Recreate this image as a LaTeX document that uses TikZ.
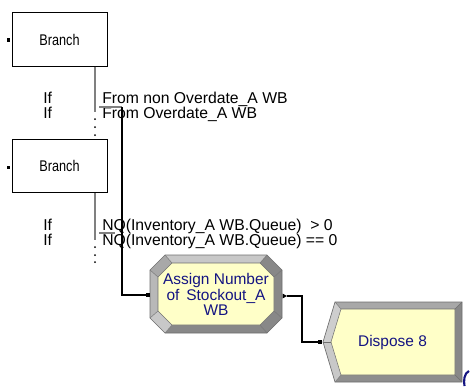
\documentclass[tikz,border=0pt]{standalone}
\usepackage{fontspec}
\setmainfont{Liberation Sans}
\usepackage{graphicx}
\definecolor{navyt}{RGB}{20,20,130}
\definecolor{ylw}{RGB}{255,255,200}
\definecolor{bvlight}{RGB}{200,200,200}
\definecolor{bvleft}{RGB}{184,184,184}
\definecolor{bvmid}{RGB}{168,168,168}
\definecolor{bvdark}{RGB}{136,136,136}
\definecolor{edgec}{RGB}{110,110,110}
\definecolor{exitgray}{RGB}{128,128,128}
\begin{document}
\begin{tikzpicture}[x=0.75pt,y=-0.75pt,
  branchbox/.style={draw=black, line width=0.75pt, fill=white, minimum width=71.25pt, minimum height=40pt, inner sep=0pt, font=\fontsize{11.6}{12}\selectfont},
  entrysq/.style={fill=black, minimum size=2.4pt, inner sep=0pt},
  lbl/.style={font=\fontsize{11.8}{12}\selectfont, inner sep=0pt, anchor=base west},
  exitline/.style={draw=exitgray, line width=1.1pt},
  conn/.style={draw=black, line width=0.8pt},
  modtext/.style={font=\fontsize{11.6}{11.8}\selectfont, text=navyt, align=center, inner sep=0pt},
  dotmark/.style={fill=black}
]
\useasboundingbox (0,0) rectangle (470,386);

% ---------- Branch boxes ----------
\node[branchbox] (b1) at (59.5,39.5) {\scalebox{0.82}[1]{Branch}};
\node[branchbox] (b2) at (59.5,166) {\scalebox{0.82}[1]{Branch}};
\node[entrysq] (e1) at (8.5,40) {};
\node[entrysq] (e2) at (8.5,167.5) {};

% ---------- Branch 1 labels ----------
\node[lbl] (if1) at (43,103) {If};
\node[lbl] (if2) at (43,118) {If};
\node[lbl] (c1) at (102,103) {From non Overdate\_A WB};
\node[lbl] (c2) at (102,118) {From Overdate\_A WB};

% ---------- Branch 2 labels ----------
\node[lbl] (if3) at (43,230.5) {If};
\node[lbl] (if4) at (43,245) {If};
\node[lbl] (c3) at (102,230.5) {NQ(Inventory\_A WB.Queue)\ \ > 0};
\node[lbl] (c4) at (102,245) {NQ(Inventory\_A WB.Queue) == 0};

% ---------- Assign module (beveled octagon) ----------
\coordinate (o1) at (165,255); \coordinate (o2) at (267,255);
\coordinate (o3) at (282,270); \coordinate (o4) at (282,318);
\coordinate (o5) at (267,333); \coordinate (o6) at (165,333);
\coordinate (o7) at (150,318); \coordinate (o8) at (150,270);
\coordinate (i1) at (172,263); \coordinate (i2) at (260,263);
\coordinate (i3) at (274,277); \coordinate (i4) at (274,311);
\coordinate (i5) at (260,325); \coordinate (i6) at (172,325);
\coordinate (i7) at (158,311); \coordinate (i8) at (158,277);
\fill[bvlight] (o1) -- (o2) -- (i2) -- (i1) -- cycle;
\fill[bvdark] (o2) -- (o3) -- (i3) -- (i2) -- cycle;
\fill[bvdark] (o3) -- (o4) -- (i4) -- (i3) -- cycle;
\fill[bvdark] (o4) -- (o5) -- (i5) -- (i4) -- cycle;
\fill[bvdark] (o5) -- (o6) -- (i6) -- (i5) -- cycle;
\fill[bvlight] (o6) -- (o7) -- (i7) -- (i6) -- cycle;
\fill[bvleft] (o7) -- (o8) -- (i8) -- (i7) -- cycle;
\fill[bvmid] (o8) -- (o1) -- (i1) -- (i8) -- cycle;
\fill[ylw] (i1) -- (i2) -- (i3) -- (i4) -- (i5) -- (i6) -- (i7) -- (i8) -- cycle;
\draw[edgec, line width=0.5pt] (o1) -- (o2) -- (o3) -- (o4) -- (o5) -- (o6) -- (o7) -- (o8) -- cycle;
\draw[edgec, line width=0.4pt] (i1) -- (i2) -- (i3) -- (i4) -- (i5) -- (i6) -- (i7) -- (i8) -- cycle;
\foreach \a/\b in {o1/i1,o2/i2,o3/i3,o4/i4,o5/i5,o6/i6,o7/i7,o8/i8}
  \draw[edgec, line width=0.3pt] (\a) -- (\b);
\node[modtext, minimum width=99pt, minimum height=58.5pt] (assign) at (216,294.5)
  {Assign Number\\of\, Stockout\_A\\WB};

% ---------- Dispose module (beveled pentagon) ----------
\coordinate (p1) at (335,302); \coordinate (p2) at (462,302);
\coordinate (p3) at (462,382); \coordinate (p4) at (335,382);
\coordinate (p5) at (323,342);
\coordinate (q1) at (341,309); \coordinate (q2) at (455,309);
\coordinate (q3) at (455,375); \coordinate (q4) at (341,375);
\coordinate (q5) at (331,342);
\fill[bvmid] (p1) -- (p2) -- (q2) -- (q1) -- cycle;
\fill[bvdark] (p2) -- (p3) -- (q3) -- (q2) -- cycle;
\fill[bvdark!80!bvmid] (p3) -- (p4) -- (q4) -- (q3) -- cycle;
\fill[bvlight] (p4) -- (p5) -- (q5) -- (q4) -- cycle;
\fill[bvlight!90!white] (p5) -- (p1) -- (q1) -- (q5) -- cycle;
\fill[ylw] (q1) -- (q2) -- (q3) -- (q4) -- (q5) -- cycle;
\draw[edgec, line width=0.5pt] (p1) -- (p2) -- (p3) -- (p4) -- (p5) -- cycle;
\draw[edgec, line width=0.4pt] (q1) -- (q2) -- (q3) -- (q4) -- (q5) -- cycle;
\foreach \a/\b in {p1/q1,p2/q2,p3/q3,p4/q4,p5/q5}
  \draw[edgec, line width=0.3pt] (\a) -- (\b);
\node[modtext, minimum width=104pt, minimum height=60pt] (dispose) at (392.5,342) {Dispose 8};

% ---------- Branch exits ----------
\coordinate (d1) at (95,112);
\coordinate (h1a) at (99,107); \coordinate (h1b) at (122,107);
\draw[exitline] (b1.south -| d1) -- (d1);
\draw[exitline] (h1a) -- (h1b);
\foreach \yy in {119,127,135} \fill[dotmark] (95,\yy) circle (0.75pt);

\coordinate (d2) at (95,240);
\coordinate (h2a) at (99,233); \coordinate (h2b) at (115,233);
\draw[exitline] (b2.south -| d2) -- (d2);
\draw[exitline] (h2a) -- (h2b);
\foreach \yy in {247,255,262} \fill[dotmark] (95,\yy) circle (0.75pt);

% ---------- Connectors ----------
\node[entrysq] (ae) at (148,295) {};
\draw[conn] (h1b) |- (ae);

\coordinate (ax) at (287,296);
\fill[black] (282.5,293.5) -- (ax) -- (282.5,298.5) -- cycle;
\coordinate (bend) at (302,296);
\node[entrysq] (de) at (320,342) {};
\draw[conn] (ax) -- (bend) |- (de);

% ---------- cut-off glyph at lower right ----------
\draw[navyt, line width=1.6pt] (469,371) .. controls (464,373) and (463.5,381) .. (464.5,386);
\end{tikzpicture}
\end{document}
